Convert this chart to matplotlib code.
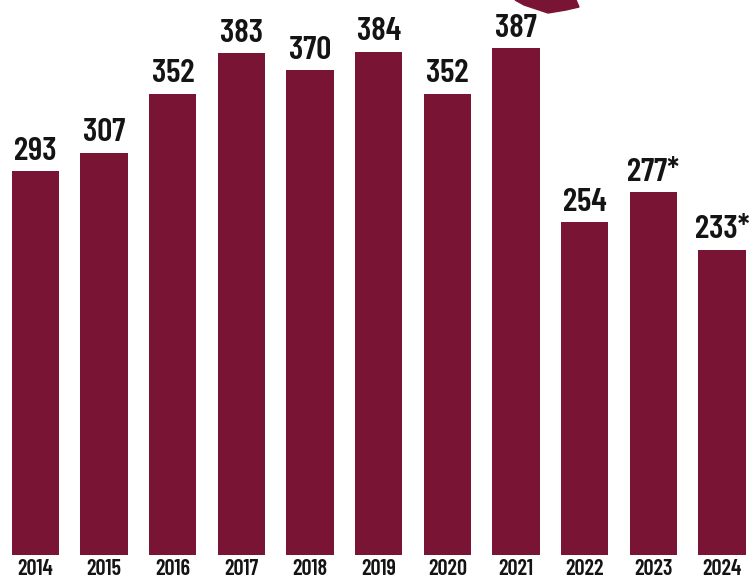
import matplotlib
matplotlib.use("Agg")
import matplotlib.pyplot as plt
from matplotlib.patches import Polygon

years = ["2014", "2015", "2016", "2017", "2018", "2019", "2020", "2021", "2022", "2023", "2024"]
values = [293, 307, 352, 383, 370, 384, 352, 387, 254, 277, 233]
value_labels = ["293", "307", "352", "383", "370", "384", "352", "387", "254", "277*", "233*"]

bar_color = "#7a1434"
font = ["Barlow Condensed", "DejaVu Sans"]

fig = plt.figure(figsize=(7.52, 5.81), dpi=100)
ax = fig.add_axes([0, 0, 1, 1])

x = list(range(len(years)))
ax.bar(x, values, width=0.69, color=bar_color, edgecolor="none")

for xi, v, lab in zip(x, values, value_labels):
    ax.annotate(lab, (xi, v), xytext=(0, 4), textcoords="offset points",
                ha="center", va="bottom", fontsize=24, fontweight=600,
                family=font, color="#141414")

for xi, yr in zip(x, years):
    ax.annotate(yr, (xi, 0), xytext=(0, -3), textcoords="offset points",
                ha="center", va="top", fontsize=16, fontweight=600,
                family=font, color="#141414")

ax.set_xlim(-0.517, 10.437)
ax.set_ylim(-19.8, 423.7)
ax.axis("off")

# decorative ribbon at the top edge
pts_px = [(515, 0), (576, 0), (579, 7), (566, 10), (548, 13), (536, 9), (524, 5)]
ribbon = Polygon([(px / 752, 1 - py / 581) for px, py in pts_px],
                 closed=True, transform=fig.transFigure, color=bar_color)
fig.patches.append(ribbon)

fig.savefig("out.png", dpi=100, facecolor="white")
